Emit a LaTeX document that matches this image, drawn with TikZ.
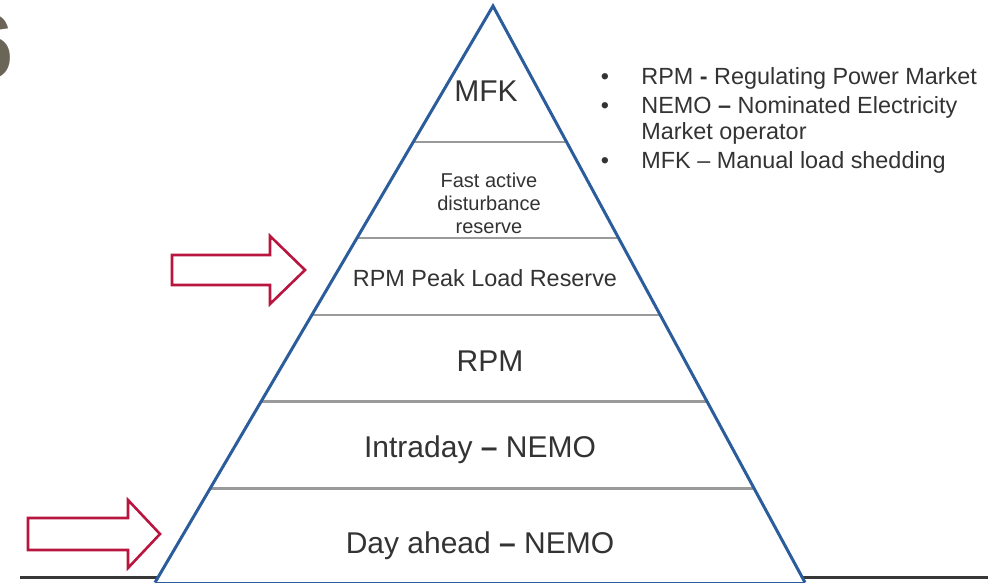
\documentclass[tikz,border=0pt]{standalone}
\usepackage{fontspec}
\setmainfont{Liberation Sans}
\usetikzlibrary{calc}
\definecolor{edgeblue}{HTML}{2B5C9C}
\definecolor{layergrey}{HTML}{9A9A9A}
\definecolor{arrowred}{HTML}{B8163F}
\definecolor{textgrey}{HTML}{333333}
\definecolor{digitgrey}{HTML}{6B6558}
\begin{document}
\begin{tikzpicture}[x=0.5pt,y=-0.5pt,
    layer/.style={draw=layergrey, line width=1.2pt},
    edge/.style={draw=edgeblue, line width=1.5pt},
    blockarrow/.style={draw=arrowred, fill=white, line width=1.3pt},
    tier/.style={text=textgrey, inner sep=0pt, font=\fontsize{15}{18}\selectfont},
    smalltier/.style={text=textgrey, inner sep=0pt, font=\fontsize{11.7}{14}\selectfont},
    legend/.style={text=textgrey, inner sep=0pt, anchor=base west, font=\fontsize{11.7}{14}\selectfont}]
  \useasboundingbox (0,0) rectangle (995,583);
  \coordinate (apex) at (493,6);
  \coordinate (bl) at (155,582.5);
  \coordinate (br) at (805,582.5);
  % page number, cut at the margin
  \node[anchor=east, inner sep=0pt, text=digitgrey, font=\fontsize{46}{46}\selectfont\bfseries] (pagenum) at (14,47) {6};
  % ground line
  \draw[draw=black!78, line width=1.3pt] (20,577.5) -- (988,577.5);
  % pyramid
  \fill[white] (bl) -- (apex) -- (br) -- cycle;
  \foreach \t in {0.764,0.598,0.464,0.314,0.163}
    \draw[layer] ($(bl)!\t!(apex)$) -- ($(br)!\t!(apex)$);
  \draw[edgeblue, line width=0.5pt] (bl) -- (br);
  \draw[edge] (bl) -- (apex) -- (br);
  % tiers
  \node[tier, anchor=base] (mfk) at (486,102) {MFK};
  \node[text=textgrey, inner sep=0pt, align=center, font=\fontsize{10}{11.5}\selectfont] (fast) at (489,203)
    {Fast active\\disturbance\\reserve};
  \node[smalltier, anchor=base] (peak) at (485,286) {RPM Peak Load Reserve};
  \node[tier, anchor=base] (rpm) at (490,371) {RPM};
  \node[tier, anchor=base] (intraday) at (480,457) {Intraday \textbf{--} NEMO};
  \node[tier, anchor=base] (dayahead) at (480,553) {Day ahead \textbf{--} NEMO};
  % arrows
  \draw[blockarrow] (172,255) -- (270,255) -- (270,236) -- (305,270) -- (270,304) -- (270,285) -- (172,285) -- cycle;
  \draw[blockarrow] (28,518) -- (128,518) -- (128,500) -- (160,534) -- (128,568) -- (128,550) -- (28,550) -- cycle;
  % legend
  \node[legend] (rpmdef) at (641,85) {RPM \textbf{-} Regulating Power Market};
  \node[legend] (nemodef) at (641,113) {NEMO \textbf{--} Nominated Electricity};
  \node[legend] (nemodefb) at (641,140) {Market operator};
  \node[legend] (mfkdef) at (641,168) {MFK -- Manual load shedding};
  \foreach \y in {85,113,168}
    \node[text=textgrey, inner sep=0pt, anchor=base, font=\fontsize{11.7}{14}\selectfont] at (605,\y) {\textbullet};
\end{tikzpicture}
\end{document}
